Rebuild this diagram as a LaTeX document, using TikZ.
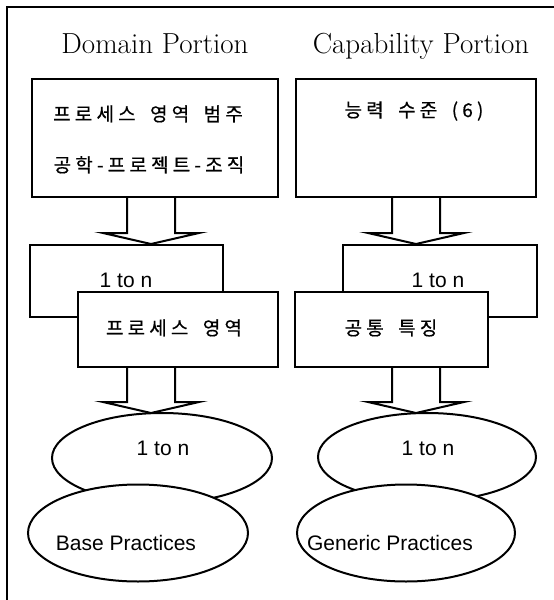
\documentclass[tikz,border=0pt]{standalone}
\usepackage{fontspec}
\newfontfamily\krfont[LetterSpace=22, FakeBold=0.6]{Noto Sans CJK KR}
\newfontfamily\arialfont{Liberation Sans}
\usetikzlibrary{shapes.geometric, calc}

\newcommand{\wgap}{\hspace{6pt}}
\tikzset{
  box/.style={draw, line width=2pt, fill=white, inner sep=0pt},
  oval/.style={ellipse, draw, line width=2pt, fill=white, inner sep=0pt},
  title/.style={font=\fontsize{29}{34}\selectfont, anchor=base},
  kr/.style={font=\krfont\fontsize{19}{23}\selectfont, anchor=base},
  en/.style={font=\arialfont\fontsize{21}{25}\selectfont, anchor=base},
  fatarrow/.style={line width=2pt, line join=miter}
}
\newcommand{\blockarrow}[2]{%
  \draw[fatarrow] ($(#1)+(-24,0)$) -- ($(#2)+(-24,-11)$) -- ($(#2)+(-48,-11)$)
    -- (#2) -- ($(#2)+(48,-11)$) -- ($(#2)+(24,-11)$) -- ($(#1)+(24,0)$);}

\begin{document}
\begin{tikzpicture}[x=1pt, y=-1pt]
            \useasboundingbox (0,0) rectangle (554,600);
            \draw[line width=2pt] (554,7) -- (7,7) -- (7,600);

            \node[title] (dtitle) at (155,53) {Domain Portion};
            \node[title] (ctitle) at (421,53) {Capability Portion};

            \node[box, minimum width=246, minimum height=118] (dcat) at (155,138) {};
            \node[box, minimum width=240, minimum height=118] (clevel) at (416,138) {};
            \node[kr] (dcattxt) at (148,121) {프로세스\wgap{} 영역\wgap{} 범주};
            \node[kr] (dgroup) at (149,172) {공학-프로젝트-조직};
            \node[kr] (cleveltxt) at (414,117) {능력\wgap{} 수준\wgap{} (6)};

            \node[box, minimum width=193, minimum height=72] (dmany) at (126.5,281) {};
            \node[box, minimum width=194, minimum height=72] (cmany) at (440,281) {};
            \node[en] (dmanytxt) at (126,287) {1 to n};
            \node[en] (cmanytxt) at (438,287) {1 to n};

            \node[box, minimum width=200, minimum height=75] (darea) at (178,329.5) {};
            \node[box, minimum width=193, minimum height=75] (cfeat) at (391.5,329.5) {};
            \node[kr] (dareatxt) at (174,335) {프로세스\wgap{} 영역};
            \node[kr] (cfeattxt) at (391,335) {공통\wgap{} 특징};

            \node[oval, minimum width=220, minimum height=90] (dmany2) at (162,458) {};
            \node[oval, minimum width=218, minimum height=88] (cmany2) at (427,457) {};
            \node[en] (dmany2txt) at (163,455) {1 to n};
            \node[en] (cmany2txt) at (428,455) {1 to n};

            \node[oval, minimum width=220, minimum height=97] (dbase) at (138,533) {};
            \node[oval, minimum width=218, minimum height=97] (cgen) at (406,533) {};
            \node[en] (dbasetxt) at (126,550) {Base Practices};
            \node[en] (cgentxt) at (390,550) {Generic Practices};

            \coordinate (dtip1) at (151,244);
            \coordinate (dtop1) at (dcat.south -| dtip1);
            \coordinate (dtip2) at (151,413);
            \coordinate (dtop2) at (darea.south -| dtip2);
            \coordinate (ctip1) at (416,244);
            \coordinate (ctop1) at (clevel.south -| ctip1);
            \coordinate (ctip2) at (416,413);
            \coordinate (ctop2) at (cfeat.south -| ctip2);

            \blockarrow{dtop1}{dtip1}
            \blockarrow{dtop2}{dtip2}
            \blockarrow{ctop1}{ctip1}
            \blockarrow{ctop2}{ctip2}
        \end{tikzpicture}
\end{document}
